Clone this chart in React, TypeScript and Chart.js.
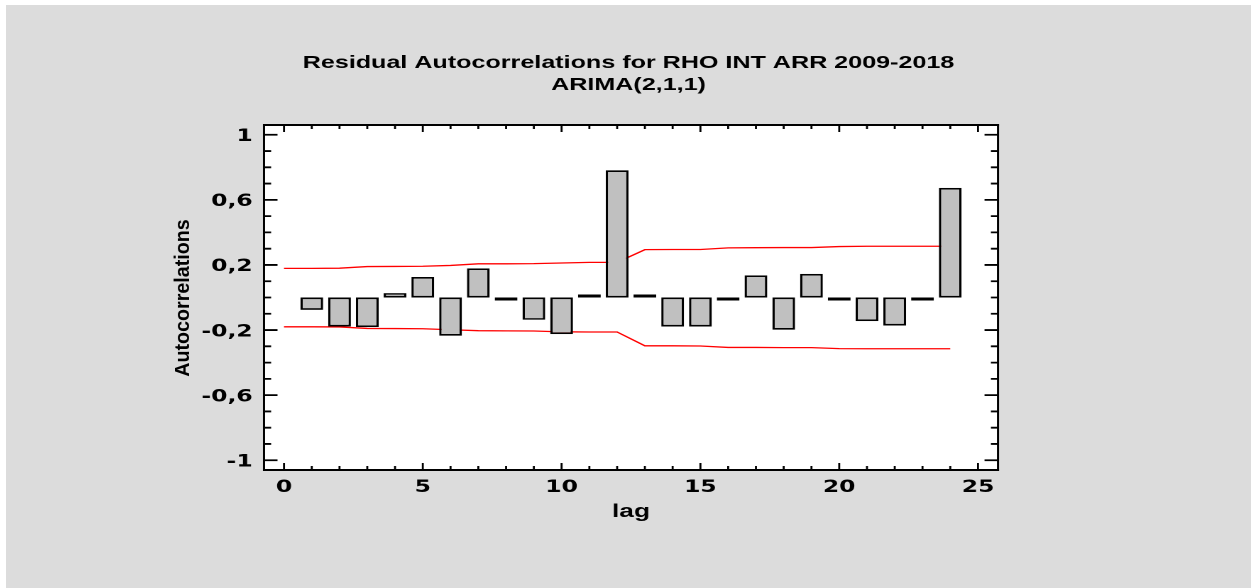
import React, { useEffect, useRef } from "react";
import { Chart, registerables } from "chart.js";

Chart.register(...registerables);

// ---------- data ----------
const lags = [1, 2, 3, 4, 5, 6, 7, 8, 9, 10, 11, 12, 13, 14, 15, 16, 17, 18, 19, 20, 21, 22, 23, 24];
const autocorrelations = [
  -0.076, -0.178, -0.182, 0.027, 0.126, -0.235, 0.179, -0.005, -0.137, -0.225, 0.007, 0.782,
  0.007, -0.178, -0.178, -0.005, 0.136, -0.198, 0.145, -0.005, -0.145, -0.172, -0.014, 0.674,
];
const limitLags = [0, 1, 2, 3, 4, 5, 6, 7, 8, 9, 10, 11, 12, 13, 14, 15, 16, 17, 18, 19, 20, 21, 22, 23, 24];
const upperLimits = [
  0.179, 0.179, 0.18, 0.19, 0.191, 0.192, 0.197, 0.207, 0.207, 0.208, 0.212, 0.216, 0.216,
  0.294, 0.295, 0.295, 0.305, 0.306, 0.307, 0.307, 0.313, 0.315, 0.315, 0.315, 0.315,
];
const lowerLimits = [
  -0.18, -0.18, -0.181, -0.19, -0.191, -0.192, -0.198, -0.204, -0.205, -0.206, -0.211, -0.212, -0.212,
  -0.297, -0.297, -0.298, -0.307, -0.307, -0.308, -0.308, -0.314, -0.315, -0.315, -0.315, -0.315,
];
const xTickValues = [0, 5, 10, 15, 20, 25];
const xMinorTickValues = [0, 1, 2, 3, 4, 5, 6, 7, 8, 9, 10, 11, 12, 13, 14, 15, 16, 17, 18, 19, 20, 21, 22, 23, 24, 25];
const yTickValues = [-1, -0.6, -0.2, 0.2, 0.6, 1];
const yTickLabels = ["-1", "-0,6", "-0,2", "0,2", "0,6", "1"];
const yMinorTickValues = [
  -1, -0.9, -0.8, -0.7, -0.6, -0.5, -0.4, -0.3, -0.2, -0.1, 0, 0.1, 0.2, 0.3, 0.4, 0.5, 0.6, 0.7, 0.8, 0.9, 1,
];
const titleLines = ["Residual Autocorrelations for RHO INT ARR 2009-2018", "ARIMA(2,1,1)"];
const xTitle = "lag";
const yTitle = "Autocorrelations";

// ---------- layout (logical canvas units; canvas is stretched horizontally) ----------
const PAGE_W = 1245;
const PAGE_H = 583;
const LOGICAL_W = 877;
const STRETCH = PAGE_W / LOGICAL_W;
const PLOT_LEFT = 258 / STRETCH;
const PLOT_RIGHT = 992 / STRETCH;
const PLOT_BOTTOM = 465;
const Y_TITLE_X = (189 - 6) / STRETCH;
const Y_TITLE_Y = 298 - 5;

const TITLE_FONT = '"Liberation Sans", Arial, Helvetica, sans-serif';
const TICK_FONT = '"DejaVu Sans", Verdana, sans-serif';

const isMajor = (list: number[], v: number) => list.some((m) => Math.abs(m - v) < 1e-9);

const framePlugin = {
  id: "frame",
  beforeDraw(chart: any) {
    const { ctx, chartArea: a } = chart;
    ctx.save();
    ctx.fillStyle = "#ffffff";
    ctx.fillRect(a.left, a.top, a.right - a.left, a.bottom - a.top);
    ctx.restore();
  },
  afterDatasetsDraw(chart: any) {
    const { ctx, chartArea: a } = chart;
    const xs = chart.scales.x;
    const ys = chart.scales.y;
    ctx.save();
    ctx.strokeStyle = "#000";
    ctx.lineCap = "butt";
    // horizontal border edges
    ctx.lineWidth = 2;
    ctx.beginPath();
    ctx.moveTo(a.left - 0.75, a.top);
    ctx.lineTo(a.right + 0.75, a.top);
    ctx.moveTo(a.left - 0.75, a.bottom);
    ctx.lineTo(a.right + 0.75, a.bottom);
    ctx.stroke();
    // vertical border edges
    ctx.lineWidth = 1.5;
    ctx.beginPath();
    ctx.moveTo(a.left, a.top - 1);
    ctx.lineTo(a.left, a.bottom + 1);
    ctx.moveTo(a.right, a.top - 1);
    ctx.lineTo(a.right, a.bottom + 1);
    ctx.stroke();
    // x ticks (bottom and top, pointing inward)
    ctx.lineWidth = 1.4;
    ctx.beginPath();
    xMinorTickValues.forEach((v) => {
      const px = xs.getPixelForValue(v);
      const len = isMajor(xTickValues, v) ? 7 : 4;
      ctx.moveTo(px, a.bottom);
      ctx.lineTo(px, a.bottom - len);
      ctx.moveTo(px, a.top);
      ctx.lineTo(px, a.top + len);
    });
    ctx.stroke();
    // y ticks (left and right, pointing inward)
    ctx.lineWidth = 1.8;
    ctx.beginPath();
    yMinorTickValues.forEach((v) => {
      const py = ys.getPixelForValue(v);
      const len = isMajor(yTickValues, v) ? 9.5 : 5;
      ctx.moveTo(a.left, py);
      ctx.lineTo(a.left + len, py);
      ctx.moveTo(a.right, py);
      ctx.lineTo(a.right - len, py);
    });
    ctx.stroke();
    ctx.restore();
  },
  afterDraw(chart: any) {
    const { ctx } = chart;
    ctx.save();
    ctx.translate(Y_TITLE_X, Y_TITLE_Y);
    ctx.rotate(-Math.PI / 2);
    ctx.scale(1.33, 1);
    ctx.font = `bold 14.8px ${TITLE_FONT}`;
    ctx.fillStyle = "#000";
    ctx.textAlign = "center";
    ctx.textBaseline = "alphabetic";
    ctx.fillText(yTitle, 0, 0);
    ctx.restore();
  },
};

export default function App() {
  const canvasRef = useRef<HTMLCanvasElement>(null);

  useEffect(() => {
    const canvas = canvasRef.current;
    if (!canvas) return;
    const tickFont = { family: TICK_FONT, size: 16.5, weight: "bold" as const };
    const chart = new Chart(canvas, {
      type: "bar",
      data: {
        datasets: [
          {
            type: "bar",
            label: "Autocorrelations",
            data: lags.map((l, i) => ({ x: l, y: autocorrelations[i] })),
            backgroundColor: "#c0c0c0",
            borderColor: "#000000",
            borderWidth: 1.7,
            borderSkipped: false,
            minBarLength: 3,
            barPercentage: 0.82,
            categoryPercentage: 1,
            order: 0,
            xAxisID: "x",
            yAxisID: "y",
          } as any,
          {
            type: "line",
            label: "Upper limit",
            data: limitLags.map((l, i) => ({ x: l, y: upperLimits[i] })),
            borderColor: "#ff0000",
            borderWidth: 1.3,
            pointRadius: 0,
            fill: false,
            tension: 0,
            order: 1,
            xAxisID: "x",
            yAxisID: "y",
          } as any,
          {
            type: "line",
            label: "Lower limit",
            data: limitLags.map((l, i) => ({ x: l, y: lowerLimits[i] })),
            borderColor: "#ff0000",
            borderWidth: 1.3,
            pointRadius: 0,
            fill: false,
            tension: 0,
            order: 1,
            xAxisID: "x",
            yAxisID: "y",
          } as any,
        ],
      },
      options: {
        animation: false,
        responsive: false,
        devicePixelRatio: 2,
        layout: { padding: 0 },
        plugins: {
          legend: { display: false },
          tooltip: { enabled: false },
          title: {
            display: true,
            text: titleLines,
            color: "#000",
            font: { family: TITLE_FONT, size: 17.7, weight: "bold", lineHeight: "22px" } as any,
            padding: { top: 47, bottom: 29 },
          },
        },
        scales: {
          x: {
            type: "linear",
            position: "bottom",
            min: -0.72,
            max: 25.72,
            offset: false,
            grid: { display: false, drawTicks: false, offset: false },
            border: { display: false },
            ticks: {
              color: "#000",
              font: tickFont,
              padding: 8,
              autoSkip: false,
              maxRotation: 0,
              callback: (v: any) => String(v),
            },
            afterBuildTicks: (s: any) => {
              s.ticks = xTickValues.map((v) => ({ value: v }));
            },
            afterFit: (s: any) => {
              s.height = PAGE_H - PLOT_BOTTOM;
            },
            title: {
              display: true,
              text: xTitle,
              color: "#000",
              font: { family: TITLE_FONT, size: 18.5, weight: "bold" },
              padding: { top: 0, bottom: 65 },
            },
          },
          y: {
            type: "linear",
            position: "left",
            min: -1.06,
            max: 1.06,
            grid: { display: false, drawTicks: false },
            border: { display: false },
            ticks: {
              color: "#000",
              font: tickFont,
              padding: 8,
              labelOffset: 2,
              autoSkip: false,
              callback: (v: any) => yTickLabels[yTickValues.indexOf(v)] ?? "",
            },
            afterBuildTicks: (s: any) => {
              s.ticks = yTickValues.map((v) => ({ value: v }));
            },
            afterFit: (s: any) => {
              s.width = PLOT_LEFT;
            },
          },
          yRight: {
            type: "linear",
            position: "right",
            min: -1.06,
            max: 1.06,
            display: true,
            grid: { display: false, drawTicks: false },
            border: { display: false },
            ticks: { display: false },
            afterFit: (s: any) => {
              s.width = LOGICAL_W - PLOT_RIGHT;
            },
          },
        },
      },
      plugins: [framePlugin],
    } as any);
    return () => chart.destroy();
  }, []);

  return (
    <div
      style={{
        position: "fixed",
        left: 6,
        top: 5,
        width: PAGE_W,
        height: PAGE_H,
        background: "#dcdcdc",
        overflow: "hidden",
      }}
    >
      <canvas
        ref={canvasRef}
        width={LOGICAL_W}
        height={PAGE_H}
        style={{
          position: "absolute",
          left: 0,
          top: 0,
          transformOrigin: "0 0",
          transform: `scaleX(${STRETCH})`,
        }}
      />
    </div>
  );
}
